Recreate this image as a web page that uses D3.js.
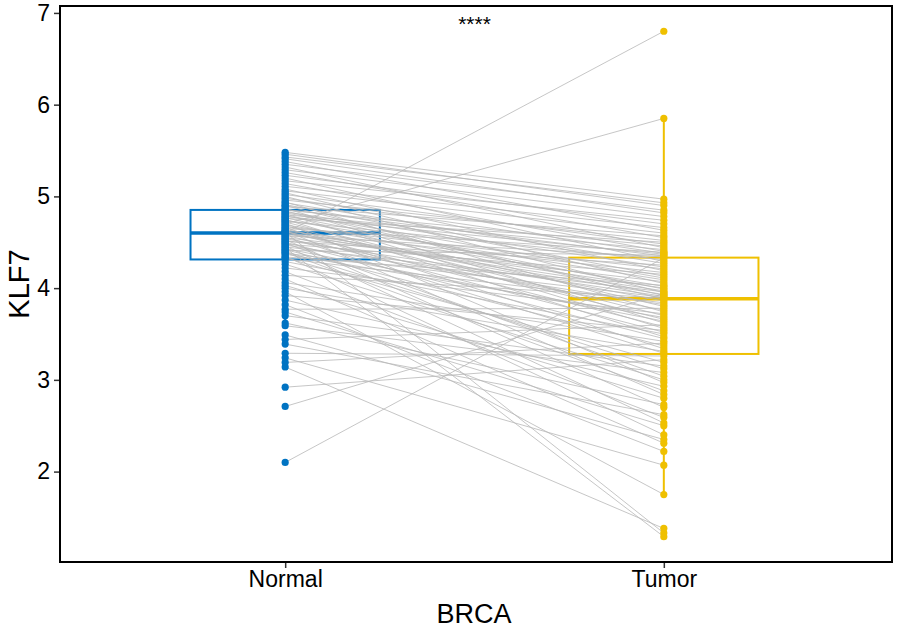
<!DOCTYPE html>
<html><head><meta charset="utf-8">
<script src="https://cdn.jsdelivr.net/npm/d3@7"></script>
<style>body{margin:0;background:#fff}</style>
</head><body>
<svg id="chart" width="900" height="629"></svg>
<script>
const categories = ["Normal", "Tumor"];
const seriesColors = ["#0073C2", "#EFC000"];
// paired values: normal[i] pairs with tumor[i]
const normal = [
 5.48,5.46,5.43,5.41,5.38,5.35,5.32,5.29,5.26,5.23,5.20,5.17,5.14,5.11,5.08,5.06,5.04,5.02,5.00,4.98,4.96,4.94,4.93,4.91,4.90,4.89,4.87,4.86,
 4.85,4.84,4.83,4.82,4.81,4.80,4.79,4.78,4.77,4.76,4.75,4.74,4.73,4.72,4.71,4.70,4.69,4.68,4.67,4.66,4.65,4.64,4.63,4.62,4.62,4.61,4.61,4.60,
 4.60,4.59,4.58,4.57,4.56,4.55,4.54,4.53,4.52,4.51,4.50,4.49,4.48,4.47,4.46,4.45,4.44,4.43,4.42,4.41,4.40,4.39,4.38,4.37,4.35,4.34,4.33,4.32,
 4.29,4.26,4.22,4.18,4.14,4.10,4.06,4.03,4.00,3.96,3.92,3.87,3.82,3.77,3.74,3.70,3.62,3.59,3.49,3.44,3.39,3.29,3.24,3.19,3.14,2.92,2.71,2.10
];
const tumor = [
 4.97,4.90,4.93,4.82,4.63,4.85,4.44,4.78,4.55,4.70,4.29,4.74,4.40,4.66,4.19,4.60,4.05,4.48,3.95,4.38,4.52,3.74,4.27,4.13,3.88,4.57,3.62,4.35,
 4.46,3.92,4.23,4.11,3.56,4.42,3.99,4.37,3.80,4.50,3.47,4.09,4.31,3.70,2.97,5.85,4.02,3.66,4.21,3.34,4.39,3.86,2.84,4.17,3.58,1.33,4.00,3.93,
 6.80,3.97,3.52,4.34,3.29,4.07,3.76,2.70,3.91,4.25,3.45,3.04,4.15,3.82,2.53,3.96,1.29,3.64,3.37,4.36,3.12,2.88,3.90,3.68,2.40,4.03,3.19,3.84,
 3.50,3.00,3.72,2.59,3.89,2.31,3.42,2.80,3.31,1.75,3.54,2.93,2.22,3.78,2.50,3.15,2.73,3.08,2.35,3.60,2.62,3.26,2.07,3.40,1.38,3.22,3.94,4.33
];
const yTicks = [2,3,4,5,6,7];
const xTitle = "BRCA", yTitle = "KLF7", sigLabel = "****";

const svg = d3.select("#chart");
const P = {l:60, r:892, t:6, b:562};
const all = normal.concat(tumor);
const mn = d3.min(all), mx = d3.max(all), pad = (mx-mn)*0.05;
const y = d3.scaleLinear().domain([mn-pad, mx+pad]).range([P.b, P.t]);
const x = d3.scaleLinear().domain([0.4, 2.6]).range([P.l-2, P.r-1]);
const font = "Liberation Sans, Arial, sans-serif";
const series = [normal, tumor];

// boxplots
series.forEach((vals, i) => {
  const s = vals.slice().sort(d3.ascending);
  const q1 = d3.quantile(s, 0.25), med = d3.quantile(s, 0.5), q3 = d3.quantile(s, 0.75);
  const iqr = q3 - q1;
  const lo = d3.min(s.filter(v => v >= q1 - 1.5*iqr));
  const hi = d3.max(s.filter(v => v <= q3 + 1.5*iqr));
  const cx = x(i+1), hw = (x(1.25) - x(1));
  const g = svg.append("g").attr("stroke", seriesColors[i]).attr("fill", "none");
  g.append("line").attr("x1", cx).attr("x2", cx).attr("y1", y(q3)).attr("y2", y(hi)).attr("stroke-width", 2);
  g.append("line").attr("x1", cx).attr("x2", cx).attr("y1", y(q1)).attr("y2", y(lo)).attr("stroke-width", 2);
  g.append("rect").attr("x", cx-hw).attr("width", 2*hw).attr("y", y(q3)).attr("height", y(q1)-y(q3))
    .attr("fill", "#fff").attr("stroke-width", 2);
  g.append("line").attr("x1", cx-hw).attr("x2", cx+hw).attr("y1", y(med)).attr("y2", y(med)).attr("stroke-width", 3.5);
});

// paired lines
svg.append("g").selectAll("line").data(normal.map((v,i)=>[v, tumor[i]])).join("line")
  .attr("x1", x(1)).attr("x2", x(2))
  .attr("y1", d => y(d[0])).attr("y2", d => y(d[1]))
  .attr("stroke", "#b8b8b8").attr("stroke-width", 0.8);

// points
series.forEach((vals, i) => {
  svg.append("g").selectAll("circle").data(vals).join("circle")
    .attr("cx", x(i+1)).attr("cy", d => y(d)).attr("r", 3.6)
    .attr("fill", seriesColors[i]);
});

// panel border
svg.append("rect").attr("x", P.l).attr("y", P.t).attr("width", P.r-P.l).attr("height", P.b-P.t)
  .attr("fill", "none").attr("stroke", "#000").attr("stroke-width", 2);

// y axis
const ya = svg.append("g").attr("transform", `translate(${P.l-1},0)`)
  .call(d3.axisLeft(y).tickValues(yTicks).tickSize(5).tickPadding(4).tickFormat(d3.format("d")));
ya.select(".domain").remove();
ya.selectAll("line").attr("stroke", "#333").attr("stroke-width", 1.5);
ya.selectAll("text").attr("font-family", font).attr("font-size", 23).attr("fill", "#000");

// x axis
const xa = svg.append("g").attr("transform", `translate(0,${P.b+1})`)
  .call(d3.axisBottom(x).tickValues([1,2]).tickSize(5).tickPadding(3).tickFormat(d => categories[d-1]));
xa.select(".domain").remove();
xa.selectAll("line").attr("stroke", "#333").attr("stroke-width", 1.5);
xa.selectAll("text").attr("font-family", font).attr("font-size", 23).attr("fill", "#000");

// titles
svg.append("text").attr("x", (P.l+P.r)/2 - 2).attr("y", 623).attr("text-anchor", "middle")
  .attr("font-family", font).attr("font-size", 27).text(xTitle);
svg.append("text").attr("transform", `translate(29,${(P.t+P.b)/2}) rotate(-90)`).attr("text-anchor", "middle")
  .attr("font-family", font).attr("font-size", 29).text(yTitle);
svg.append("text").attr("x", (x(1)+x(2))/2).attr("y", 31).attr("text-anchor", "middle")
  .attr("font-family", font).attr("font-size", 21).text(sigLabel);
</script>
</body></html>
